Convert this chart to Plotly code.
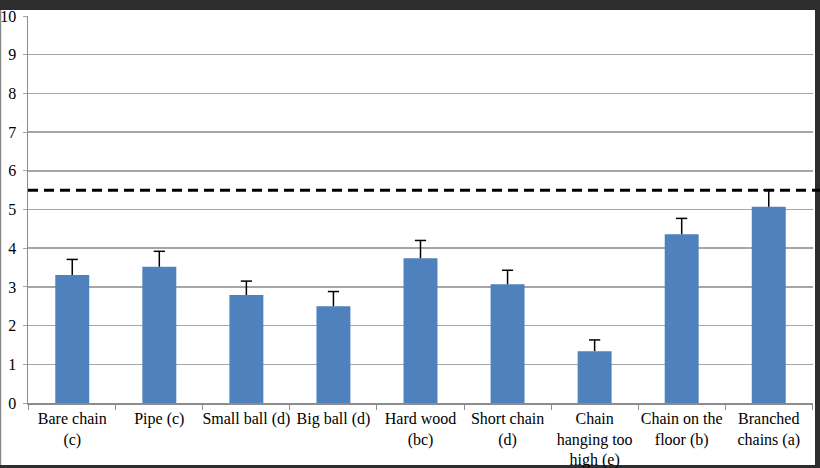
import plotly.graph_objects as go

categories = ["Bare chain<br>(c)", "Pipe (c)", "Small ball (d)", "Big ball (d)",
              "Hard wood<br>(bc)", "Short chain<br>(d)", "Chain<br>hanging too<br>high (e)",
              "Chain on the<br>floor (b)", "Branched<br>chains (a)"]
values = [3.31, 3.52, 2.79, 2.50, 3.74, 3.07, 1.34, 4.36, 5.07]
errors = [0.40, 0.40, 0.36, 0.38, 0.46, 0.36, 0.29, 0.41, 0.43]
threshold = 5.5
y_max = 10
y_ticks = list(range(0, 11))

W, H = 820, 468
ml, mr, mt, mb = 28, 7, 16, 65
pw = W - ml - mr
ph = H - mt - mb
FONT = "Liberation Serif"

fig = go.Figure()
fig.add_trace(go.Bar(
    x=categories, y=values, width=0.39,
    marker=dict(color="#4F81BD", line=dict(width=0)),
))

# one-sided (upward) error bars
ex, ey = [], []
for c, v, e in zip(categories, values, errors):
    ex += [c, c, None]
    ey += [v, v + e, None]
fig.add_trace(go.Scatter(x=ex, y=ey, mode="lines",
                         line=dict(color="black", width=1.5), hoverinfo="skip"))
fig.add_trace(go.Scatter(x=categories, y=[v + e for v, e in zip(values, errors)],
                         mode="markers",
                         marker=dict(symbol="line-ew-open", size=8, color="black",
                                     line=dict(color="black", width=1.5)),
                         hoverinfo="skip"))

def px_x(p):
    return (p - ml) / pw

def px_y(p):
    return (H - mb - p) / ph

shapes = [
    dict(type="rect", xref="paper", yref="paper", x0=px_x(1), x1=px_x(815),
         y0=px_y(465), y1=px_y(10), fillcolor="white", line=dict(width=0), layer="below"),
    dict(type="line", xref="paper", yref="paper", x0=px_x(0.5), x1=px_x(0.5),
         y0=px_y(465), y1=px_y(10), line=dict(color="#8a8a8a", width=1.5), layer="below"),
    dict(type="line", xref="paper", yref="paper", x0=0, x1=px_x(W),
         y0=threshold / y_max, y1=threshold / y_max,
         line=dict(color="black", width=3, dash="10px,6px")),
]

fig.update_layout(
    width=W, height=H,
    margin=dict(l=ml, r=mr, t=mt, b=mb, pad=0, autoexpand=False),
    paper_bgcolor="#2d2d2d", plot_bgcolor="rgba(0,0,0,0)",
    showlegend=False,
    font=dict(family=FONT, color="black", size=16),
    shapes=shapes,
)
fig.update_xaxes(
    showgrid=False, showline=True, linecolor="#8c8c8c", linewidth=1.5,
    ticks="outside", tickson="boundaries", ticklen=5, tickcolor="#8c8c8c",
    tickfont=dict(family=FONT, size=16, color="black"), tickangle=0,
    automargin=False, fixedrange=True,
)
fig.update_yaxes(
    range=[0, y_max], tickvals=y_ticks, showgrid=True, gridcolor="#a6a6a6", gridwidth=1.5,
    showline=True, linecolor="#8c8c8c", linewidth=1.5, ticks="outside", ticklen=4,
    tickcolor="#a6a6a6", tickfont=dict(family=FONT, size=16, color="black"),
    zeroline=False, ticklabelstandoff=3, automargin=False, fixedrange=True,
)

fig.write_html("out.html", config={"displayModeBar": False, "staticPlot": True},
               post_script="document.body.style.margin='0';document.body.style.overflow='hidden';")
